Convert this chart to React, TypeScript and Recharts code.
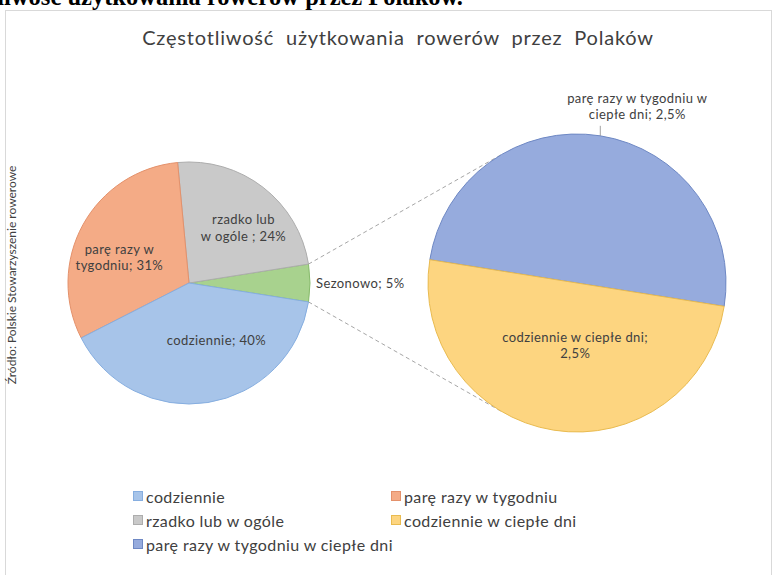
import * as React from 'react';
import { PieChart, Pie, Cell, Legend, Customized } from 'recharts';

// main pie (Excel "pie of pie"); Sezonowo gets split into the second pie
const mainNames = ['Sezonowo', 'rzadko lub w ogóle', 'parę razy w tygodniu', 'codziennie'];
const mainValues = [5, 24, 31, 40];
const mainLabelLines = [['Sezonowo; 5%'], ['rzadko lub', 'w ogóle ; 24%'], ['parę razy w', 'tygodniu; 31%'], ['codziennie; 40%']];

const subNames = ['parę razy w tygodniu w ciepłe dni', 'codziennie w ciepłe dni'];
const subValues = [2.5, 2.5];
const subLabelLines = [['parę razy w tygodniu w', 'ciepłe dni; 2,5%'], ['codziennie w ciepłe dni;', '2,5%']];

const legendNames = [
  'codziennie',
  'parę razy w tygodniu',
  'rzadko lub w ogóle',
  'codziennie w ciepłe dni',
  'parę razy w tygodniu w ciepłe dni',
];

const TITLE = 'Częstotliwość  użytkowania  rowerów  przez  Polaków';
const CAPTION = 'Częstotliwość użytkowania rowerów przez Polaków.';
const SOURCE = 'Źródło: Polskie Stowarzyszenie rowerowe';

const COLORS: Record<string, { fill: string; stroke: string }> = {
  'codziennie': { fill: '#a7c4e9', stroke: '#86aee0' },
  'parę razy w tygodniu': { fill: '#f4ab86', stroke: '#e4916b' },
  'rzadko lub w ogóle': { fill: '#c9c9c9', stroke: '#adadad' },
  'Sezonowo': { fill: '#a8d28e', stroke: '#88bb6c' },
  'codziennie w ciepłe dni': { fill: '#fdd580', stroke: '#e9bb50' },
  'parę razy w tygodniu w ciepłe dni': { fill: '#96abdd', stroke: '#6e88c4' },
};

const FONT = 'Lato, "Open Sans", sans-serif';
const TEXT = '#404040';

const W = 779;
const H = 575;
const MAIN = { cx: 189, cy: 283, r: 121 };
const SUB = { cx: 577, cy: 283, r: 149 };
const RAD = Math.PI / 180;
// nudges for the inside labels of the main pie (Excel "best fit" placement)
const MAIN_NUDGE = [
  [0, 0],
  [10, 2],
  [-6, 9],
  [18, -3],
];

const mainData = mainNames.map((name, i) => ({ name, value: mainValues[i] }));
const subData = subNames.map((name, i) => ({ name, value: subValues[i] }));

function Lines({ x, y, lines, anchor = 'middle' }: { x: number; y: number; lines: string[]; anchor?: string }) {
  const lh = 16.5;
  const y0 = y - ((lines.length - 1) * lh) / 2;
  return (
    <text x={x} y={y0} textAnchor={anchor as any} dominantBaseline="central" fill={TEXT} fontSize={13} letterSpacing={0.4} fontFamily={FONT}>
      {lines.map((l, i) => (
        <tspan key={i} x={x} y={y0 + i * lh}>{l}</tspan>
      ))}
    </text>
  );
}

const renderMainLabel = (p: any) => {
  const { cx, cy, midAngle, outerRadius, index } = p;
  const lines = mainLabelLines[index];
  if (index === 0) {
    // small slice: label sits outside, right of the pie
    const x = cx + (outerRadius + 6) * Math.cos(-midAngle * RAD);
    const y = cy + (outerRadius + 6) * Math.sin(-midAngle * RAD);
    return <Lines x={x} y={y} lines={lines} anchor="start" />;
  }
  const k = index === 3 ? 0.5 : 0.6;
  const x = cx + outerRadius * k * Math.cos(-midAngle * RAD) + MAIN_NUDGE[index][0];
  const y = cy + outerRadius * k * Math.sin(-midAngle * RAD) + MAIN_NUDGE[index][1];
  return <Lines x={x} y={y} lines={lines} />;
};

const renderSubLabel = (p: any) => {
  const { cx, cy, midAngle, outerRadius, index } = p;
  const lines = subLabelLines[index];
  if (index === 0) {
    const ex = cx + outerRadius * Math.cos(-midAngle * RAD);
    const ey = cy + outerRadius * Math.sin(-midAngle * RAD);
    return (
      <g>
        <line x1={ex} y1={ey} x2={ex} y2={ey - 10} stroke="#8c8c8c" strokeWidth={0.8} />
        <Lines x={ex + 37} y={ey - 30} lines={lines} />
      </g>
    );
  }
  const x = cx + outerRadius * 0.42 * Math.cos(-midAngle * RAD);
  const y = cy + outerRadius * 0.42 * Math.sin(-midAngle * RAD);
  return <Lines x={x + 8} y={y} lines={lines} />;
};

// frame, texts and the dashed lines joining the Sezonowo slice with the second pie
function Decor() {
  const a = 9 * RAD;
  const top1 = { x: MAIN.cx + MAIN.r * Math.cos(a), y: MAIN.cy - MAIN.r * Math.sin(a) };
  const bot1 = { x: MAIN.cx + MAIN.r * Math.cos(a), y: MAIN.cy + MAIN.r * Math.sin(a) };
  const b = 120 * RAD;
  const top2 = { x: SUB.cx + SUB.r * Math.cos(b), y: SUB.cy - SUB.r * Math.sin(b) };
  const bot2 = { x: SUB.cx + SUB.r * Math.cos(b), y: SUB.cy + SUB.r * Math.sin(b) };
  return (
    <g>
      <rect x={5.5} y={10.5} width={766} height={600} fill="none" stroke="#d9d9d9" />
      <text x={463} y={5} textAnchor="end" fontFamily='"Liberation Serif", serif' fontWeight="bold" fontSize={24.5} fill="#000">{CAPTION}</text>
      <text x={398} y={37} textAnchor="middle" dominantBaseline="central" fontFamily={FONT} fontSize={20} letterSpacing={0.8} style={{ whiteSpace: 'pre' }} fill={TEXT}>{TITLE}</text>
      <text transform="translate(11 275) rotate(-90)" textAnchor="middle" dominantBaseline="central" fontFamily={FONT} fontSize={12} fill={TEXT}>{SOURCE}</text>
      <line x1={top1.x} y1={top1.y} x2={top2.x} y2={top2.y} stroke="#a6a6a6" strokeDasharray="4 3" strokeWidth={1} />
      <line x1={bot1.x} y1={bot1.y} x2={bot2.x} y2={bot2.y} stroke="#a6a6a6" strokeDasharray="4 3" strokeWidth={1} />
    </g>
  );
}

function LegendBox() {
  return (
    <div style={{ display: 'grid', gridTemplateColumns: '258px 280px', rowGap: 4, fontFamily: FONT, fontSize: 16, letterSpacing: 0.4, color: TEXT, whiteSpace: 'nowrap' }}>
      {legendNames.map((n) => (
        <div key={n} style={{ display: 'flex', alignItems: 'center', height: 20 }}>
          <span style={{ width: 8, height: 8, flex: 'none', background: COLORS[n].fill, border: `1px solid ${COLORS[n].stroke}`, marginRight: 3 }} />
          <span>{n}</span>
        </div>
      ))}
    </div>
  );
}

export default function App(): React.JSX.Element {
  return (
    <div style={{ position: 'absolute', left: 0, top: 0, width: W, height: H, overflow: 'hidden', background: '#fff' }}>
      <PieChart width={W} height={H} margin={{ top: 0, right: 0, bottom: 0, left: 0 }}>
        <Customized component={<Decor />} />
        <Pie
          data={mainData}
          dataKey="value"
          nameKey="name"
          cx={MAIN.cx}
          cy={MAIN.cy}
          outerRadius={MAIN.r}
          startAngle={-9}
          endAngle={351}
          labelLine={false}
          label={renderMainLabel}
          isAnimationActive={false}
        >
          {mainData.map((d) => (
            <Cell key={d.name} fill={COLORS[d.name].fill} stroke={COLORS[d.name].stroke} strokeWidth={1} />
          ))}
        </Pie>
        <Pie
          data={subData}
          dataKey="value"
          nameKey="name"
          cx={SUB.cx}
          cy={SUB.cy}
          outerRadius={SUB.r}
          startAngle={-9}
          endAngle={351}
          labelLine={false}
          label={renderSubLabel}
          isAnimationActive={false}
        >
          {subData.map((d) => (
            <Cell key={d.name} fill={COLORS[d.name].fill} stroke={COLORS[d.name].stroke} strokeWidth={1} />
          ))}
        </Pie>
        <Legend
          content={() => <LegendBox />}
          wrapperStyle={{ position: 'absolute', left: 133, top: 486, width: 580 }}
        />
      </PieChart>
    </div>
  );
}
